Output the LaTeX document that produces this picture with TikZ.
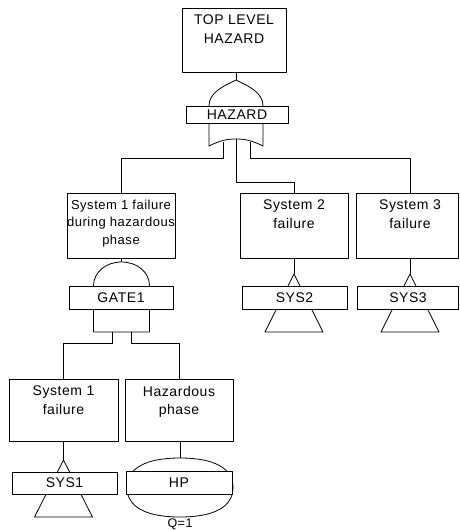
\documentclass[tikz,border=0pt]{standalone}
\usepackage{fontspec}
\setmainfont{Liberation Sans}[LetterSpace=4]
\begin{document}
\begin{tikzpicture}[x=1pt,y=-1pt,line width=0.8pt,line join=round,
  evbox/.style={draw,fill=white,inner sep=0pt},
  evtxt/.style={inner sep=0pt,align=center,anchor=north,font=\fontsize{14}{18.5}\selectfont},
  lbl/.style={draw,fill=white,inner sep=0pt,font=\fontsize{14}{17}\selectfont},
  gate/.style={draw,fill=white}]
\useasboundingbox (0,0) rectangle (459,530);

% ---- top event and its OR gate ----
\node[evbox,minimum width=104pt,minimum height=64pt] (top) at (234,40) {};
\node[evtxt] (topt) at ([yshift=-7pt]top.north) {TOP LEVEL\\HAZARD};

\coordinate (orApex) at (236,80);
\coordinate (orIn1) at (223,141.5);
\coordinate (orIn2) at (236,139);
\coordinate (orIn3) at (250,141.5);
\coordinate (busA) at (0,158);
\coordinate (busB) at (0,182);
\draw[gate] (209,146) -- (209,106)
  .. controls (209,92) and (224,86) .. (orApex)
  .. controls (248,86) and (263,92) .. (263,106) -- (263,146)
  .. controls (252,140.5) and (245,139) .. (orIn2)
  .. controls (227,139) and (220,140.5) .. (209,146) -- cycle;
\node[lbl,minimum width=102pt,minimum height=17pt] (hazg) at (237,114.5) {HAZARD};
\draw (top.south -| orApex) -- (orApex);

% ---- second level events ----
\node[evbox,minimum width=108pt,minimum height=65pt] (s1h) at (121,225.5) {};
\node[evtxt,font=\fontsize{13}{17.5}\selectfont] (s1ht) at ([yshift=-7pt]s1h.north) {System 1 failure\\during hazardous\\phase};
\node[evbox,minimum width=108pt,minimum height=65pt] (sys2) at (294,225.5) {};
\node[evtxt] (sys2t) at ([yshift=-7pt]sys2.north) {System 2\\failure};
\node[evbox,minimum width=102pt,minimum height=65pt] (sys3) at (407,225.5) {};
\node[evtxt] (sys3t) at ([xshift=3pt,yshift=-7pt]sys3.north) {System 3\\failure};

\draw (orIn1) -- (orIn1 |- busA) -| (s1h.north);
\draw (orIn2) -- (orIn2 |- busB) -| (sys2.north);
\draw (orIn3) -- (orIn3 |- busA) -| ([xshift=3pt]sys3.north);

% ---- AND gate GATE1 ----
\coordinate (andApex) at (121.5,262);
\coordinate (andIn1) at (112,332);
\coordinate (andIn2) at (131,332);
\coordinate (busC) at (0,343);
\draw[gate] (93.5,332) -- (93.5,286)
  .. controls (93.5,272) and (106,262) .. (andApex)
  .. controls (137,262) and (149.5,272) .. (149.5,286) -- (149.5,332) -- cycle;
\node[lbl,minimum width=104pt,minimum height=23pt] (gate1) at (121,297.5) {GATE1};
\draw (andApex |- s1h.south) -- (andApex);

% ---- transfer gates of systems 2 and 3 ----
\coordinate (tr2) at (294,274);
\coordinate (tr3) at (410,274);
\draw[gate] (tr2) -- ++(-29,58) -- ++(58,0) -- cycle;
\draw[gate] (tr3) -- ++(-29,58) -- ++(58,0) -- cycle;
\draw (sys2.south) -- (tr2);
\draw ([xshift=3pt]sys3.south) -- (tr3);
\node[lbl,minimum width=105pt,minimum height=23pt] (sys2l) at (294.5,297.5) {SYS2};
\node[lbl,minimum width=101pt,minimum height=23pt] (sys3l) at (408,297.5) {SYS3};

% ---- bottom events ----
\node[evbox,minimum width=109pt,minimum height=62pt] (s1) at (63.5,410) {};
\node[evtxt] (s1t) at ([yshift=-7pt]s1.north) {System 1\\failure};
\node[evbox,minimum width=108pt,minimum height=62pt] (haz) at (179,410) {};
\node[evtxt] (hazt) at ([yshift=-7pt]haz.north) {Hazardous\\phase};
\draw (andIn1) -- (andIn1 |- busC) -| (s1.north);
\draw (andIn2) -- (andIn2 |- busC) -| (haz.north);

% transfer gate of system 1
\coordinate (tr1) at (63.5,460);
\draw[gate] (tr1) -- ++(-29,57) -- ++(58,0) -- cycle;
\draw (s1.south) -- (tr1);
\node[lbl,minimum width=105pt,minimum height=22pt] (sys1l) at (64.5,483) {SYS1};

% condition event HP
\coordinate (hpTop) at (180,458);
\draw[gate] (233,487.5)
  .. controls (233,468.3) and (214.5,458) .. (hpTop)
  .. controls (145.5,458) and (127,468.3) .. (127,487.5)
  .. controls (127,506.7) and (145.5,517) .. (180,517)
  .. controls (214.5,517) and (233,506.7) .. (233,487.5) -- cycle;
\draw (haz.south -| hpTop) -- (hpTop);
\node[lbl,minimum width=106pt,minimum height=23pt] (hpl) at (179,482.5) {HP};
\node[inner sep=0pt,anchor=north,font=\fontsize{12.5}{15}\selectfont] (q) at (180,518.5) {Q=1};
\end{tikzpicture}
\end{document}
